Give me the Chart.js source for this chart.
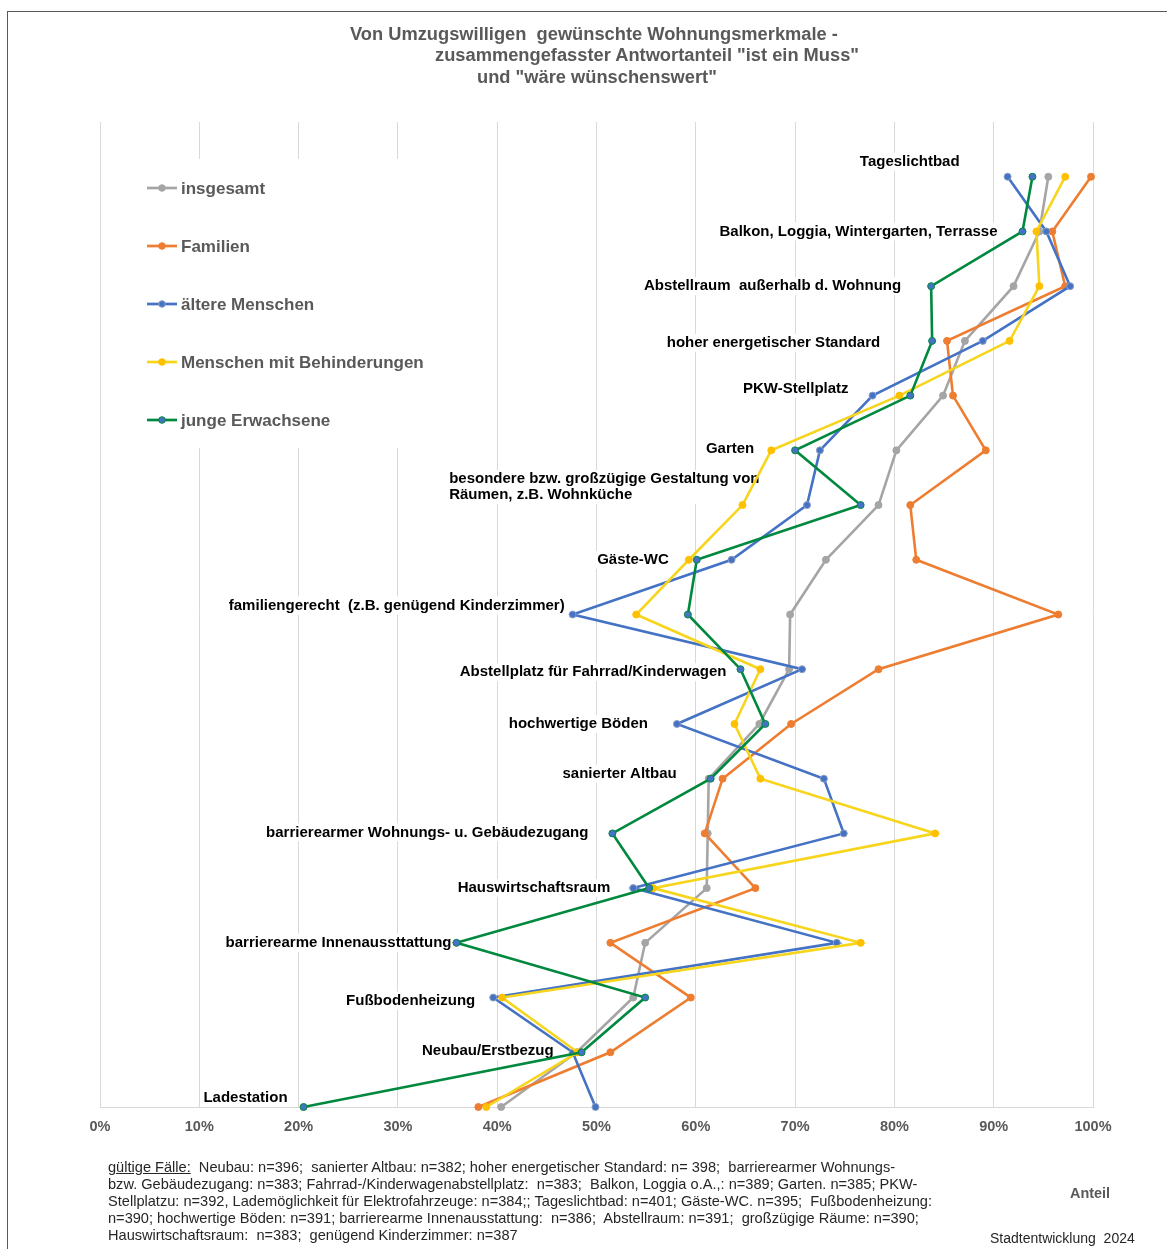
<!DOCTYPE html>
<html>
<head>
<meta charset="utf-8">
<script src="https://cdn.jsdelivr.net/npm/chart.js@4.4.0/dist/chart.umd.min.js"></script>
<style>
  body { margin: 0; background: #fff; font-family: "Liberation Sans", Arial, sans-serif; }
  #wrap { position: relative; width: 1167px; height: 1249px; overflow: hidden; }
  #frame { position: absolute; left: 7px; top: 11px; width: 1170px; height: 1250px;
           border-left: 1px solid #595959; border-top: 1px solid #595959; }
  canvas { position: absolute; left: 0; top: 0; }
  .t { position: absolute; white-space: pre; line-height: 1; }
  .title { font-weight: bold; font-size: 18.3px; color: #595959; }
  .foot { font-size: 14.6px; color: #262626; }
</style>
</head>
<body>
<div id="wrap">
  <div id="frame"></div>
  <canvas id="myChart" width="1167" height="1249"></canvas>
  <div class="t title" style="left:350px; top:25px;">Von Umzugswilligen  gewünschte Wohnungsmerkmale -</div>
  <div class="t title" style="left:435px; top:46px;">zusammengefasster Antwortanteil "ist ein Muss"</div>
  <div class="t title" style="left:477px; top:68px;">und "wäre wünschenswert"</div>

  <div class="t foot" style="left:108px; top:1160px;"><u>gültige Fälle:</u>  Neubau: n=396;  sanierter Altbau: n=382; hoher energetischer Standard: n= 398;  barrierearmer Wohnungs-</div>
  <div class="t foot" style="left:108px; top:1177px;">bzw. Gebäudezugang: n=383; Fahrrad-/Kinderwagenabstellplatz:  n=383;  Balkon, Loggia o.A.,: n=389; Garten. n=385; PKW-</div>
  <div class="t foot" style="left:108px; top:1194px;">Stellplatzu: n=392, Lademöglichkeit für Elektrofahrzeuge: n=384;; Tageslichtbad: n=401; Gäste-WC. n=395;  Fußbodenheizung:</div>
  <div class="t foot" style="left:108px; top:1211px;">n=390; hochwertige Böden: n=391; barrierearme Innenausstattung:  n=386;  Abstellraum: n=391;  großzügige Räume: n=390;</div>
  <div class="t foot" style="left:108px; top:1228px;">Hauswirtschaftsraum:  n=383;  genügend Kinderzimmer: n=387</div>

  <div class="t" style="left:1070px; top:1186px; font-weight:bold; font-size:14.4px; color:#595959;">Anteil</div>
  <div class="t foot" style="left:990px; top:1231px; font-size:14px;">Stadtentwicklung  2024</div>
</div>
<script>
// Wohnungsmerkmale, top to bottom
const features = [
  "Tageslichtbad",
  "Balkon, Loggia, Wintergarten, Terrasse",
  "Abstellraum  außerhalb d. Wohnung",
  "hoher energetischer Standard",
  "PKW-Stellplatz",
  "Garten",
  "besondere bzw. großzügige Gestaltung von\nRäumen, z.B. Wohnküche",
  "Gäste-WC",
  "familiengerecht  (z.B. genügend Kinderzimmer)",
  "Abstellplatz für Fahrrad/Kinderwagen",
  "hochwertige Böden",
  "sanierter Altbau",
  "barrierearmer Wohnungs- u. Gebäudezugang",
  "Hauswirtschaftsraum",
  "barrierearme Innenaussttattung",
  "Fußbodenheizung",
  "Neubau/Erstbezug",
  "Ladestation",
];

const groups = ["insgesamt", "Familien", "ältere Menschen", "Menschen mit Behinderungen", "junge Erwachsene"];

// Anteil in %
const insgesamt     = [95.5, 94.6, 92.0, 87.1, 84.9, 80.2, 78.4, 73.1, 69.5, 69.4, 66.4, 61.3, 61.2, 61.1, 54.9, 53.7, 48.0, 40.4];
const familien      = [99.8, 95.9, 97.2, 85.3, 85.9, 89.2, 81.6, 82.2, 96.5, 78.4, 69.6, 62.7, 60.9, 66.0, 51.4, 59.5, 51.4, 38.1];
const aeltere       = [91.4, 95.3, 97.7, 88.9, 77.8, 72.5, 71.2, 63.6, 47.6, 70.7, 58.1, 72.9, 74.9, 53.7, 74.2, 39.6, 47.6, 49.9];
const behinderungen = [97.2, 94.3, 94.6, 91.6, 80.5, 67.6, 64.7, 59.3, 54.0, 66.5, 63.9, 66.5, 84.1, 55.7, 76.6, 40.5, 48.1, 38.9];
const junge         = [93.9, 92.9, 83.7, 83.8, 81.6, 70.0, 76.6, 60.1, 59.2, 64.5, 67.0, 61.5, 51.6, 55.3, 35.9, 54.9, 48.5, 20.5];

const xTicks = [0, 10, 20, 30, 40, 50, 60, 70, 80, 90, 100];

const series = [insgesamt, familien, aeltere, behinderungen, junge];
const lineColors = ["#a5a5a5", "#ed7d31", "#4472c4", "#f7d51c", "#00893e"];
const pointFill = ["#a5a5a5", "#ed7d31", "#4472c4", "#ffc000", "#4472c4"];
const pointEdge = ["#a5a5a5", "#ed7d31", "#8e9fc4", "#ffc000", "#00893e"];

const FONT = '"Liberation Sans", Arial, sans-serif';

// label placement relative to the leftmost point of each row: [gap, dy]
const labelNudge = [
  [48, -15], [25, 0], [30, 0], [52, 2], [24, -7], [17, -1], [-17, -18], [20, 0], [8, -9],
  [14, 3], [29, 0], [32, -5], [24, -1], [23, 0], [5, 0], [18, 3], [19, -1], [16, -9],
];

const overlay = {
  id: "overlay",
  beforeDatasetsDraw(chart) {
    const ctx = chart.ctx;
    const xs = chart.scales.x, ys = chart.scales.y;
    ctx.save();

    // category labels next to the leftmost point
    ctx.font = "bold 15px " + FONT;
    ctx.textBaseline = "middle";
    ctx.textAlign = "left";
    features.forEach((name, i) => {
      const minVal = Math.min(...series.map(s => s[i]));
      const right = xs.getPixelForValue(minVal) - labelNudge[i][0];
      const cy = ys.getPixelForValue(i) + labelNudge[i][1];
      const lines = name.split("\n");
      const lh = 16;
      const w = Math.max(...lines.map(l => ctx.measureText(l).width));
      const top = cy - lines.length * lh / 2;
      ctx.fillStyle = "#fff";
      ctx.fillRect(right - w - 3, top - 1, w + 6, lines.length * lh + 2);
      ctx.fillStyle = "#000";
      lines.forEach((l, k) => ctx.fillText(l, right - w, top + lh * (k + 0.5)));
    });

    // legend box
    ctx.fillStyle = "#fff";
    ctx.fillRect(130, 159, 330, 289);
    ctx.font = "bold 17px " + FONT;
    groups.forEach((g, k) => {
      const y = 188 + k * 58;
      ctx.strokeStyle = lineColors[k];
      ctx.lineWidth = 2.7;
      ctx.beginPath();
      ctx.moveTo(147, y);
      ctx.lineTo(177, y);
      ctx.stroke();
      ctx.beginPath();
      ctx.arc(162, y, 3.3, 0, Math.PI * 2);
      ctx.fillStyle = pointFill[k];
      ctx.fill();
      ctx.lineWidth = 1;
      ctx.strokeStyle = pointEdge[k];
      ctx.stroke();
      ctx.fillStyle = "#595959";
      ctx.fillText(g, 181, y + 1);
    });
    ctx.restore();
  },
};

const datasets = series.map((vals, k) => ({
  label: groups[k],
  data: vals.map((v, i) => ({ x: v, y: i })),
  borderColor: lineColors[k],
  backgroundColor: pointFill[k],
  pointBackgroundColor: pointFill[k],
  pointBorderColor: pointEdge[k],
  pointBorderWidth: 1,
  pointRadius: 3.5,
  borderWidth: 2.6,
  tension: 0,
  clip: false,
  order: series.length - k,
}));

const ctx = document.getElementById("myChart").getContext("2d");
const myChart = new Chart(ctx, {
  type: "line",
  data: { datasets: datasets },
  options: {
    responsive: false,
    animation: false,
    layout: { padding: { left: 100, right: 74, top: 122, bottom: 102.6 } },
    plugins: { legend: { display: false }, tooltip: { enabled: false } },
    scales: {
      x: {
        type: "linear",
        min: 0,
        max: 100,
        afterBuildTicks: (scale) => { scale.ticks = xTicks.map(v => ({ value: v })); },
        ticks: {
          callback: (v) => v + "%",
          font: { family: FONT, size: 14.5, weight: "bold" },
          color: "#595959",
          padding: 11,
          maxRotation: 0,
        },
        grid: { color: "#d9d9d9", drawTicks: false, lineWidth: 1 },
        border: { color: "#d9d9d9" },
      },
      y: {
        type: "linear",
        min: -1,
        max: 17,
        reverse: true,
        display: false,
      },
    },
  },
  plugins: [overlay],
});
</script>
</body>
</html>
